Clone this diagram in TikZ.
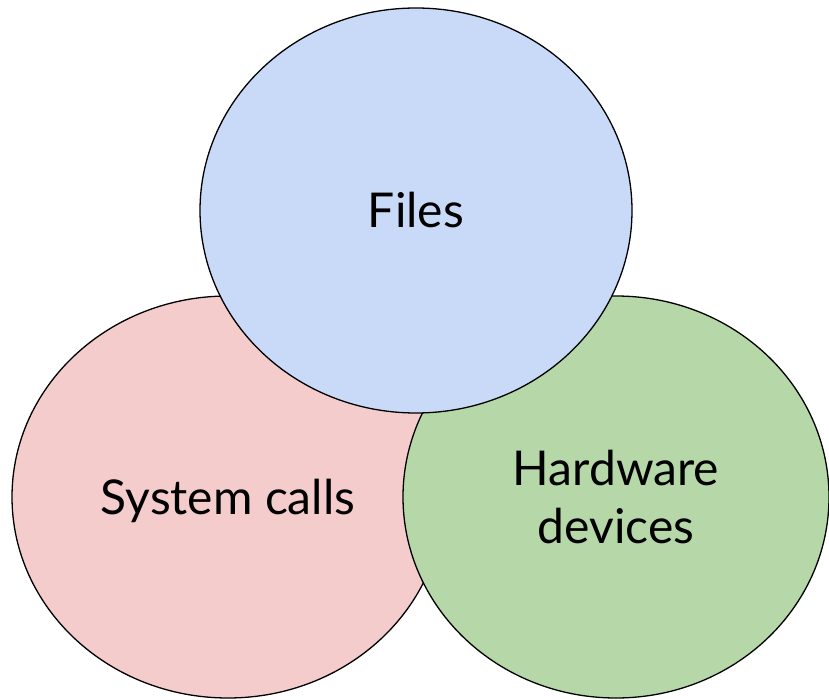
\documentclass[tikz,border=0pt]{standalone}
\usepackage{fontspec}
\setmainfont{Lato}
\usetikzlibrary{shapes.geometric}
\definecolor{cblue}{HTML}{C9DAF8}
\definecolor{cred}{HTML}{F4CCCC}
\definecolor{cgreen}{HTML}{B6D7A8}
\begin{document}
\begin{tikzpicture}[x=1pt,y=-1pt,
  blob/.style={ellipse, draw=black, line width=1.3pt, inner sep=0pt,
    align=center, font=\fontsize{48}{58}\selectfont}]
\useasboundingbox (0,0) rectangle (829,700);
\node[blob, fill=cred, minimum width=432pt, minimum height=402pt, text depth=0pt] (sys) at (228,497) {System calls};
\node[blob, fill=cgreen, minimum width=426pt, minimum height=402pt] (hw) at (616,497) {Hardware\\devices};
\node[blob, fill=cblue, minimum width=432pt, minimum height=405pt] (files) at (416,210.5) {Files};
\end{tikzpicture}
\end{document}
